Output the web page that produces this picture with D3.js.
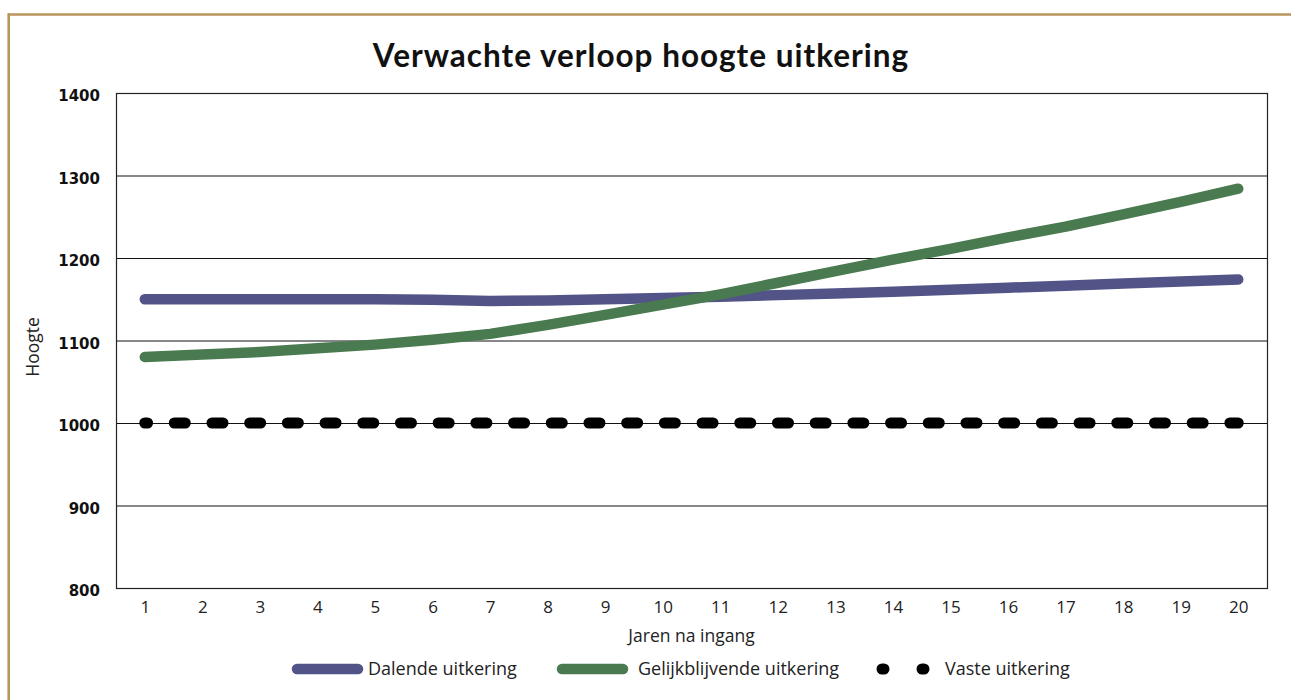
<!DOCTYPE html>
<html>
<head>
<meta charset="utf-8">
<script src="https://cdn.jsdelivr.net/npm/d3@7"></script>
<style>
  html, body { margin: 0; padding: 0; background: #fff; }
  svg { display: block; }
  .ytick { font-family: "DejaVu Sans", sans-serif; font-weight: bold; font-size: 15px; fill: #111; }
  .xtick { font-family: "Open Sans", sans-serif; font-size: 17px; fill: #222; }
  .axtitle { font-family: "Open Sans", sans-serif; font-size: 17.5px; fill: #222; }
  .legtext { font-family: "Open Sans", sans-serif; font-size: 18px; fill: #222; }
</style>
</head>
<body>
<svg id="chart" width="1291" height="700"></svg>
<script>
// jaren na ingang
const years = d3.range(1, 21);

// Dalende uitkering
const dalende = [1150, 1150, 1150, 1150, 1150, 1149.5, 1148, 1148.5, 1150, 1151.5,
                 1153, 1155, 1157, 1159, 1161.5, 1164, 1166.5, 1169, 1171.5, 1174];

// Gelijkblijvende uitkering
const gelijk = [1080, 1083, 1086, 1090.5, 1095, 1101, 1108, 1119, 1131, 1143.5,
                1156, 1170, 1184, 1198, 1211, 1225, 1238, 1253, 1268, 1284];

// Vaste uitkering
const vaste = [1000, 1000, 1000, 1000, 1000, 1000, 1000, 1000, 1000, 1000,
               1000, 1000, 1000, 1000, 1000, 1000, 1000, 1000, 1000, 1000];

const yTicks = [800, 900, 1000, 1100, 1200, 1300, 1400];

const series = [
  { name: 'Dalende uitkering', values: dalende, color: '#525488', dash: null },
  { name: 'Gelijkblijvende uitkering', values: gelijk, color: '#4a7a4f', dash: null },
  { name: 'Vaste uitkering', values: vaste, color: '#000000', dash: '11 26.7' },
];

const svg = d3.select('#chart');

const PLOT_X = 116;
const PLOT_Y = 93;
const PLOT_W = 1151;
const PLOT_H = 495;

const x = d3.scalePoint()
  .domain(years)
  .range([PLOT_X, PLOT_X + PLOT_W])
  .padding(0.5);

const y = d3.scaleLinear()
  .domain([800, 1400])
  .range([PLOT_Y + PLOT_H, PLOT_Y]);

// gouden kader
svg.append('line')
  .attr('x1', 8).attr('y1', 14.5).attr('x2', 1291).attr('y2', 14.5)
  .attr('stroke', '#b8955b').attr('stroke-width', 2.6);
svg.append('line')
  .attr('x1', 8.7).attr('y1', 13.2).attr('x2', 8.7).attr('y2', 700)
  .attr('stroke', '#b8955b').attr('stroke-width', 2.6);

// titel
svg.append('text')
  .attr('x', 641)
  .attr('y', 67)
  .attr('text-anchor', 'middle')
  .style('font-family', 'Lato, sans-serif')
  .style('font-weight', 'bold')
  .style('font-size', '31.5px')
  .style('letter-spacing', '1px')
  .style('fill', '#111')
  .text('Verwachte verloop hoogte uitkering');

// gridlijnen
svg.append('g')
  .selectAll('line')
  .data(yTicks)
  .join('line')
  .attr('x1', PLOT_X).attr('x2', PLOT_X + PLOT_W)
  .attr('y1', d => y(d) + 0.5).attr('y2', d => y(d) + 0.5)
  .attr('stroke', '#111')
  .attr('stroke-width', 1);

// kader plot
svg.append('rect')
  .attr('x', PLOT_X + 0.5).attr('y', PLOT_Y + 0.5)
  .attr('width', PLOT_W).attr('height', PLOT_H)
  .attr('fill', 'none')
  .attr('stroke', '#222')
  .attr('stroke-width', 1.2);

// y-as
const yAxis = d3.axisLeft(y).tickValues(yTicks).tickFormat(d3.format('d')).tickSize(0).tickPadding(0);
const gy = svg.append('g')
  .attr('transform', `translate(100,0)`)
  .call(yAxis);
gy.select('.domain').remove();
gy.selectAll('text')
  .attr('class', 'ytick')
  .attr('dy', '0.5em')
  .attr('x', 0)
  .attr('fill', null);

// x-as
const xAxis = d3.axisBottom(x).tickSize(0).tickPadding(0);
const gx = svg.append('g')
  .attr('transform', `translate(0,${PLOT_Y + PLOT_H})`)
  .call(xAxis);
gx.select('.domain').remove();
gx.selectAll('text')
  .attr('class', 'xtick')
  .attr('y', 25)
  .attr('dy', 0)
  .attr('fill', null);

// as titels
svg.append('text')
  .attr('class', 'axtitle')
  .attr('x', PLOT_X + PLOT_W / 2)
  .attr('y', 642)
  .attr('text-anchor', 'middle')
  .text('Jaren na ingang');

svg.append('text')
  .attr('class', 'axtitle')
  .attr('transform', 'translate(39,347) rotate(-90)')
  .attr('text-anchor', 'middle')
  .text('Hoogte');

// lijnen
const line = d3.line()
  .x((d, i) => x(years[i]))
  .y(d => y(d));

series.forEach((s) => {
  const p = svg.append('path')
    .datum(s.values)
    .attr('d', line)
    .attr('fill', 'none')
    .attr('stroke', s.color)
    .attr('stroke-width', s.dash ? 11 : 10.5)
    .attr('stroke-linecap', 'round')
    .attr('stroke-linejoin', 'round');
  if (s.dash) {
    p.attr('stroke-dasharray', s.dash).attr('stroke-dashoffset', 8.2);
  }
});

// legenda
const legend = [
  { x1: 297, x2: 358, tx: 368 },
  { x1: 562, x2: 623, tx: 638 },
  { x1: 882, x2: 925, tx: 945 },
];

series.forEach((s, i) => {
  const l = legend[i];
  const ln = svg.append('line')
    .attr('x1', l.x1).attr('x2', l.x2)
    .attr('y1', 669).attr('y2', 669)
    .attr('stroke', s.color)
    .attr('stroke-width', s.dash ? 11 : 10.5)
    .attr('stroke-linecap', 'round');
  if (s.dash) ln.attr('stroke-dasharray', '2 38');

  svg.append('text')
    .attr('class', 'legtext')
    .attr('x', l.tx)
    .attr('y', 675)
    .text(s.name);
});
</script>
</body>
</html>
